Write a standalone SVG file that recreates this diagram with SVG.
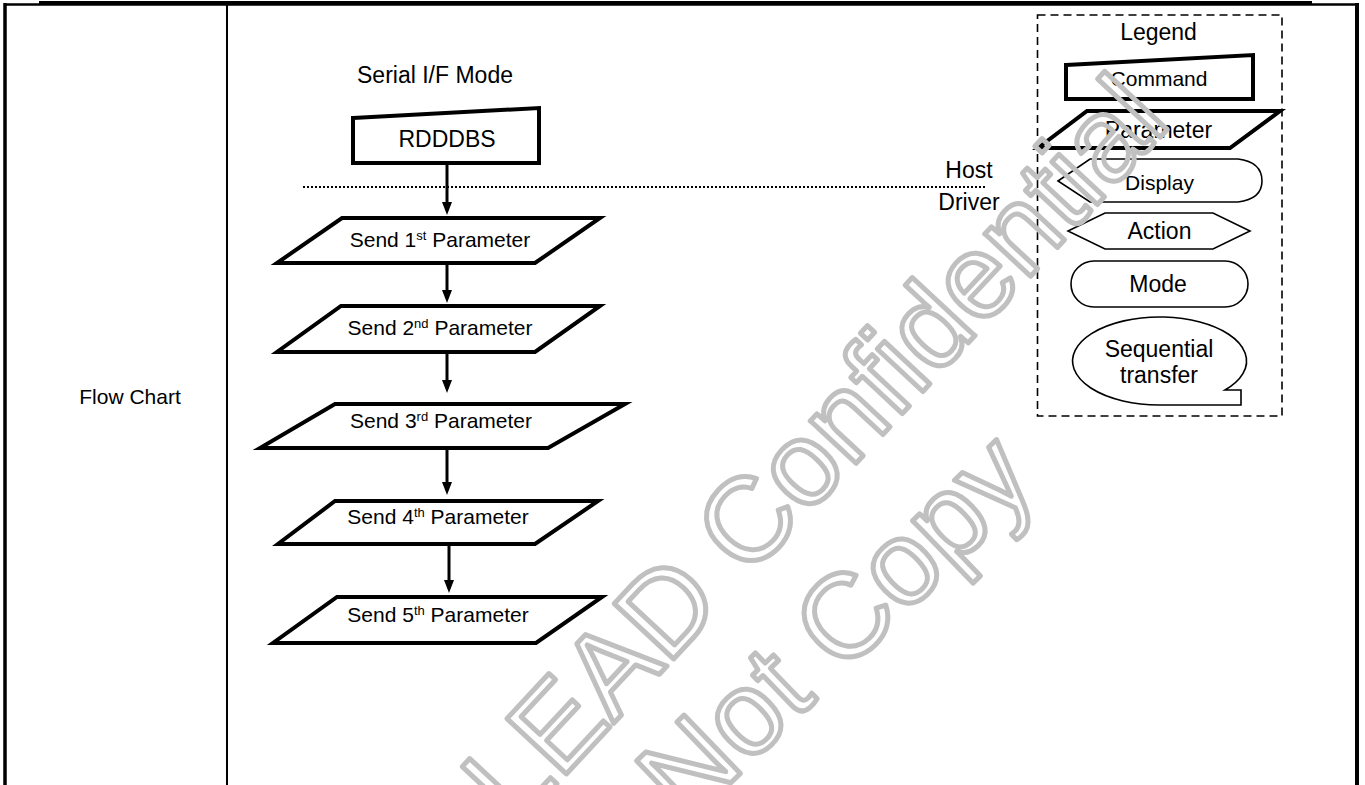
<svg xmlns="http://www.w3.org/2000/svg" width="1365" height="785" viewBox="0 0 1365 785">
<defs>
<style>
text{font-family:"Liberation Sans",Arial,sans-serif;fill:#000}
.lbl{font-size:23px;text-anchor:middle}
.sm{font-size:21px;text-anchor:middle}
.snd{font-size:21px;text-anchor:middle}
.sup{font-size:13px}
.thick{fill:#fff;stroke:#000;stroke-width:4}
.thin{fill:#fff;stroke:#000;stroke-width:1.6}
.conn line{stroke:#000;stroke-width:3}
.conn polygon{fill:#000}
.wm{font-family:"Liberation Sans",Arial,sans-serif;font-size:118px;fill:none;stroke:#c0c0c0;stroke-width:5;stroke-linejoin:round}
</style>
</defs>
<rect width="1365" height="785" fill="#fff"/>
<g id="table">
<line x1="5" y1="4.5" x2="1357" y2="4.5" stroke="#000" stroke-width="2.5"/>
<line x1="39" y1="3" x2="1312" y2="3" stroke="#000" stroke-width="4"/>
<line x1="5" y1="3" x2="5" y2="785" stroke="#000" stroke-width="3.5"/>
<line x1="1357" y1="3" x2="1357" y2="785" stroke="#000" stroke-width="4"/>
<line x1="227" y1="4" x2="227" y2="785" stroke="#000" stroke-width="2"/>
<text x="130" y="404" class="sm">Flow Chart</text>
</g>
<g id="title"><text x="435" y="83" class="lbl">Serial I/F Mode</text></g>
<g id="boundary">
<line x1="303" y1="187" x2="985" y2="187" stroke="#000" stroke-width="2" stroke-dasharray="2,2"/>
<text x="969" y="178" class="lbl">Host</text>
<text x="969" y="210" class="lbl">Driver</text>
</g>
<g id="rdddbs">
<polygon class="thick" points="353,118 539,108 539,163 353,163"/>
<text x="447" y="147" class="lbl">RDDDBS</text>
</g>
<g id="p1">
<polygon class="thick" points="342,218 600,218 535,263 277,263"/>
<text x="440" y="247" class="snd">Send 1<tspan class="sup" dy="-7">st</tspan><tspan dy="7"> Parameter</tspan></text>
</g>
<g id="p2">
<polygon class="thick" points="341,306 600,306 535,352 277,352"/>
<text x="440" y="335" class="snd">Send 2<tspan class="sup" dy="-7">nd</tspan><tspan dy="7"> Parameter</tspan></text>
</g>
<g id="p3">
<polygon class="thick" points="335,404 625,404 548,448 260,448"/>
<text x="441" y="428" class="snd">Send 3<tspan class="sup" dy="-7">rd</tspan><tspan dy="7"> Parameter</tspan></text>
</g>
<g id="p4">
<polygon class="thick" points="335,501 598,501 535,544 278,544"/>
<text x="438" y="524" class="snd">Send 4<tspan class="sup" dy="-7">th</tspan><tspan dy="7"> Parameter</tspan></text>
</g>
<g id="p5">
<polygon class="thick" points="337,597 602,597 536,643 273,643"/>
<text x="438" y="622" class="snd">Send 5<tspan class="sup" dy="-7">th</tspan><tspan dy="7"> Parameter</tspan></text>
</g>
<g id="connectors" class="conn">
<line x1="447" y1="163" x2="447" y2="204"/><polygon points="442,202 452,202 447,215"/>
<line x1="447" y1="263" x2="447" y2="292"/><polygon points="442,290 452,290 447,303"/>
<line x1="447" y1="352" x2="447" y2="382"/><polygon points="442,380 452,380 447,393"/>
<line x1="447" y1="448" x2="447" y2="484"/><polygon points="442,482 452,482 447,495"/>
<line x1="449" y1="542" x2="449" y2="582"/><polygon points="444,580 454,580 449,593"/>
</g>
<g id="legend">
<rect x="1037.5" y="15" width="244.5" height="401" fill="none" stroke="#000" stroke-width="1.6" stroke-dasharray="8,5"/>
<text x="1158.5" y="40" class="lbl">Legend</text>
<g id="lg-command">
<polygon class="thick" points="1066,65 1253,55 1253,99 1066,99"/>
<text x="1159" y="86" class="sm">Command</text>
</g>
<g id="lg-parameter">
<polygon class="thick" points="1087,111 1280,111 1230,148 1038,148"/>
<text x="1158.5" y="138" class="lbl">Parameter</text>
</g>
<g id="lg-display">
<path class="thin" d="M1058,181 L1090,159 L1238,159 Q1262,162 1262,181 Q1262,199 1238,202 L1090,202 Z"/>
<text x="1159.5" y="190" class="sm">Display</text>
</g>
<g id="lg-action">
<polygon class="thin" points="1068,231 1105,213 1213,213 1250,231 1213,249 1105,249"/>
<text x="1159.5" y="239" class="lbl">Action</text>
</g>
<g id="lg-mode">
<rect class="thin" x="1071" y="261" width="177" height="46" rx="23" ry="23"/>
<text x="1158" y="292" class="lbl">Mode</text>
</g>
<g id="lg-seq">
<path class="thin" d="M1159,405 A87,44 0 1,1 1225,390 L1241,390 L1241,405 Z"/>
<text x="1159" y="357" class="lbl">Sequential</text>
<text x="1159" y="383" class="lbl">transfer</text>
</g>
</g>
<g id="watermark">
<text class="wm" transform="translate(515,829) rotate(-47)">LEAD Confidential</text>
<text class="wm" transform="translate(686,826) rotate(-44)">Not Copy</text>
</g>
</svg>
